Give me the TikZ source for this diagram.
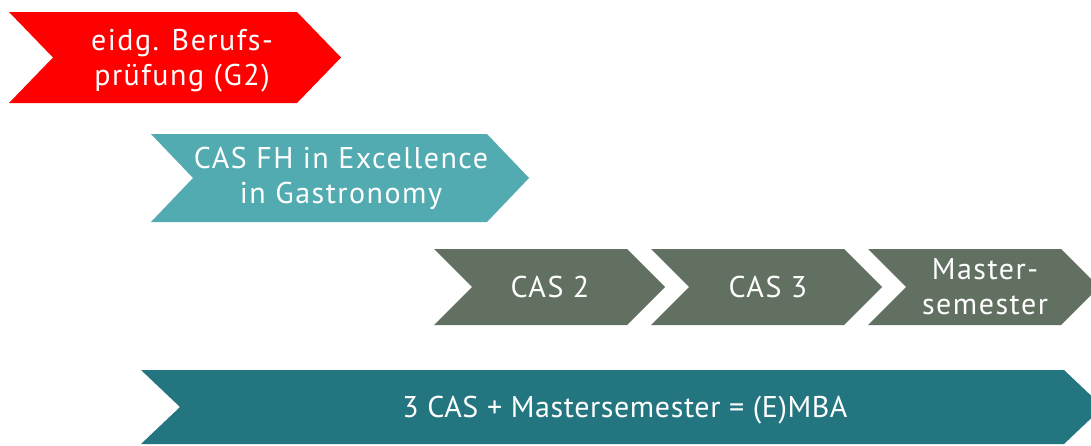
\documentclass[tikz,border=0pt]{standalone}
\usepackage{fontspec}
\setmainfont{PT Sans}
\newfontfamily\widefont[LetterSpace=5]{PT Sans}
\newfontfamily\midfont[LetterSpace=2]{PT Sans}
\definecolor{cred}{HTML}{FF0000}
\definecolor{cteal}{HTML}{52ABB0}
\definecolor{cgrey}{HTML}{627061}
\definecolor{cdark}{HTML}{237580}
% #1 left, #2 right corner, #3 top, #4 bottom, #5 depth, #6 colour
\newcommand\chevshape[6]{%
  \fill[#6] (#1,#3) -- (#2,#3) -- ({#2+#5},{(#3+#4)/2}) -- (#2,#4) -- (#1,#4)
    -- ({#1+#5},{(#3+#4)/2}) -- cycle;}
\tikzset{lbl/.style={text=white,font=\widefont\fontsize{30}{35}\selectfont,align=center,inner sep=0pt},
  wide/.style={lbl,font=\midfont\fontsize{30}{35}\selectfont}}
\begin{document}
\begin{tikzpicture}[x=1pt,y=-1pt]
\useasboundingbox (0,0) rectangle (1091,445);
\begin{scope}
\clip (0,0) rectangle (1091,445);
\chevshape{9}{297}{12}{103}{44}{cred}
\chevshape{151}{487}{134}{222}{42}{cteal}
\chevshape{434}{627}{249}{325}{38}{cgrey}
\chevshape{651}{844}{249}{325}{38}{cgrey}
\chevshape{868}{1061}{249}{325}{38}{cgrey}
\chevshape{141}{1064}{370}{444}{39}{cdark}
\end{scope}
\node[lbl] (g2) at (182,61) {eidg. Berufs-\\prüfung (G2)};
\node[lbl] (cas1) at (341,178) {CAS FH in Excellence\\in Gastronomy};
\node[lbl] (cas2) at (550,287) {CAS 2};
\node[lbl] (cas3) at (768,287) {CAS 3};
\node[lbl] (ms) at (985,287) {Master-\\semester};
\node[wide] (emba) at (625,410) {3 CAS + Mastersemester = (E)MBA};
\end{tikzpicture}
\end{document}
